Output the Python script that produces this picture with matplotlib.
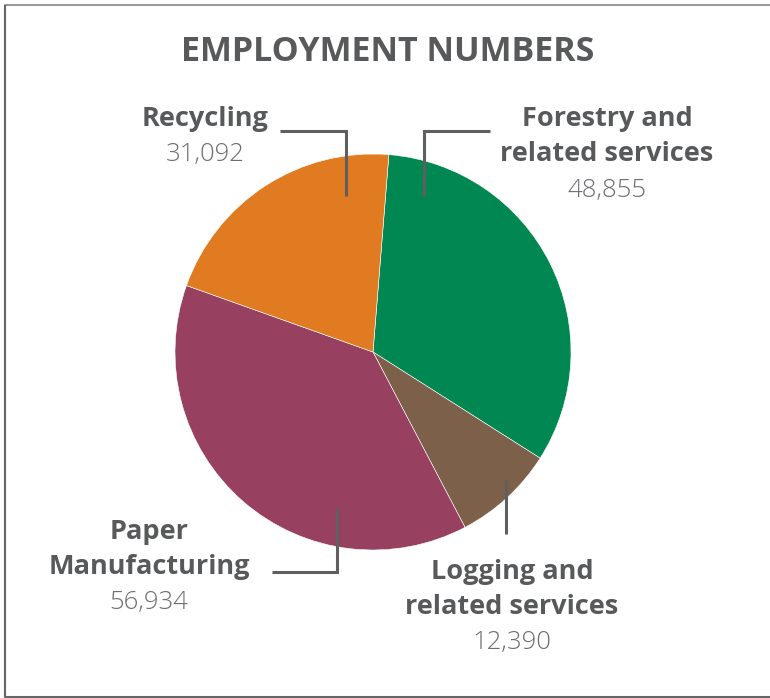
import matplotlib
matplotlib.use("Agg")
import matplotlib.pyplot as plt

# Employment by sector
categories = ["Forestry and\nrelated services", "Logging and\nrelated services",
              "Paper\nManufacturing", "Recycling"]
values = [48855, 12390, 56934, 31092]
colors = ["#008752", "#7D6049", "#97405F", "#E07B22"]
title = "EMPLOYMENT NUMBERS"

W, H = 770, 698
fig = plt.figure(figsize=(W / 100, H / 100), dpi=100)
ax = fig.add_axes([0, 0, 1, 1])

def Y(y):
    return H - y

# pie, clockwise from just right of 12 o'clock
cx, cy, r = 373, 352, 198
ax.pie(values, colors=colors, startangle=85.4, counterclock=False,
       center=(cx, Y(cy)), radius=r,
       wedgeprops=dict(linewidth=0.4, edgecolor="white"))
ax.set_xlim(0, W)
ax.set_ylim(0, H)
ax.set_aspect("equal")
ax.axis("off")

family = ["Open Sans", "DejaVu Sans"]
text_c = "#58595B"
num_c = "#6D6E71"

# outer frame
ax.plot([5, 5, W + 5], [Y(697), Y(5), Y(5)], color="#9a9a9a", lw=1.5,
        solid_capstyle="butt", clip_on=False)
ax.plot([5, 5, W + 5], [Y(5), Y(697), Y(697)], color="#666666", lw=1.5,
        solid_capstyle="butt", clip_on=False)

ax.text(388, Y(52), title, ha="center", va="center", fontsize=24.5,
        fontweight="bold", color=text_c, family=family)

# label placement (x, first line y) for each category
label_pos = {
    "Forestry and\nrelated services": (607, 119),
    "Logging and\nrelated services": (512, 572),
    "Paper\nManufacturing": (149, 532),
    "Recycling": (205, 119),
}
line_h = 35
for name, v in zip(categories, values):
    x, y0 = label_pos[name]
    lines = name.split("\n")
    for i, ln in enumerate(lines):
        ax.text(x, Y(y0 + i * line_h), ln, ha="center", va="center",
                fontsize=19.5, fontweight="bold", color=text_c, family=family)
    ax.text(x, Y(y0 + len(lines) * line_h + 1), f"{v:,}", ha="center",
            va="center", fontsize=18.5, fontweight="light", color=num_c,
            family=family)

# leader lines
lc = "#5F5F5F"
lw = 2.2
leaders = [
    ([280, 346, 346], [131, 131, 196]),
    ([490, 424, 424], [131, 131, 196]),
    ([272, 337, 337], [572, 572, 508]),
    ([506, 506], [480, 534]),
]
for xs, ys in leaders:
    ax.plot(xs, [Y(v) for v in ys], color=lc, lw=lw, solid_joinstyle="miter",
            solid_capstyle="butt")

fig.savefig("out.png", dpi=100, facecolor="white")
